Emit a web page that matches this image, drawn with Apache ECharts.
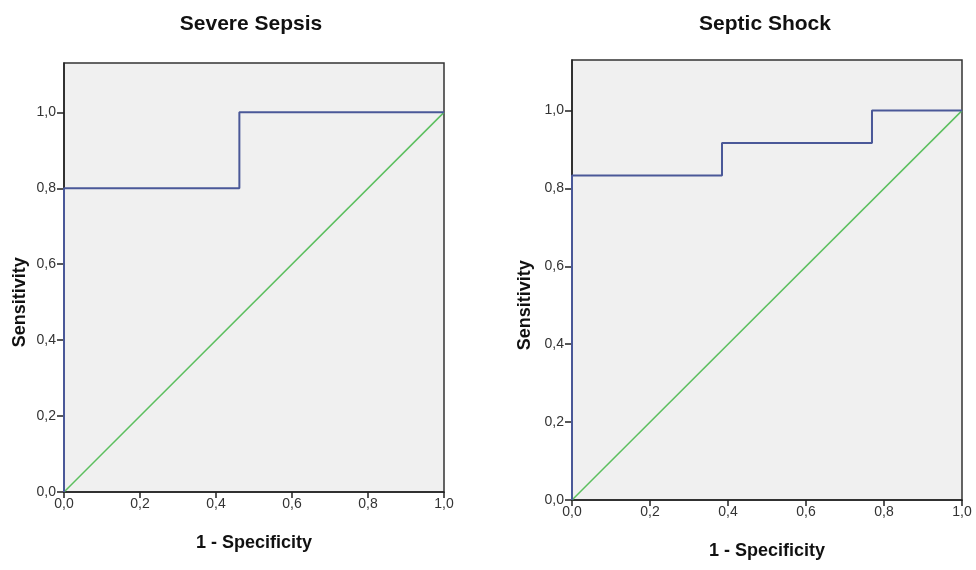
<!DOCTYPE html>
<html><head><meta charset="utf-8">
<script src="https://cdn.jsdelivr.net/npm/echarts@6/dist/echarts.min.js"></script>
<style>html,body{margin:0;padding:0;background:#fff}#c{width:976px;height:570px}</style>
</head><body><div id="c"></div>
<script>
const titles = ['Severe Sepsis', 'Septic Shock'];
const xLabel = '1 - Specificity';
const yLabel = 'Sensitivity';
// ROC curve points [1 - specificity, sensitivity]
const rocSevereSepsis = [[0, 0], [0, 0.8], [0.4615, 0.8], [0.4615, 1.0], [1.0, 1.0]];
const rocSepticShock = [[0, 0], [0, 0.8333], [0.3846, 0.8333], [0.3846, 0.9167], [0.7692, 0.9167], [0.7692, 1.0], [1.0, 1.0]];
const reference = [[0, 0], [1, 1]];
const tickValues = [0, 0.2, 0.4, 0.6, 0.8, 1.0];

const chart = echarts.init(document.getElementById('c'));
const fmt = v => (v > 1.001 ? '' : v.toFixed(1).replace('.', ','));
const FONT = 'Liberation Sans';
const grids = [
  {left: 64, top: 63, width: 380, height: 429},
  {left: 572, top: 60, width: 390, height: 440}
];
function xAxis(i) {
  return {gridIndex: i, type: 'value', min: 0, max: 1, interval: 0.2,
    name: xLabel, nameLocation: 'middle', nameGap: 42,
    nameTextStyle: {fontFamily: FONT, fontWeight: 'bold', fontSize: 18, color: '#111'},
    axisLine: {show: true, lineStyle: {color: '#222', width: 1.5}},
    axisTick: {show: true, length: 6, inside: false, lineStyle: {color: '#222', width: 1.5}},
    axisLabel: {formatter: fmt, fontFamily: FONT, fontSize: 14, color: '#333', margin: 5},
    splitLine: {show: false}};
}
function yAxis(i) {
  return {gridIndex: i, type: 'value', min: 0, max: 1.13, interval: 0.2,
    axisLine: {show: true, lineStyle: {color: '#222', width: 1.5}},
    axisTick: {show: true, length: 7, lineStyle: {color: '#222', width: 1.5},
      customValues: tickValues},
    axisLabel: {formatter: fmt, fontFamily: FONT, fontSize: 14, color: '#333', margin: 8,
      customValues: tickValues},
    splitLine: {show: false}};
}
chart.setOption({
  animation: false,
  title: [
    {text: titles[0], left: 246, top: 9, textAlign: 'center',
      textStyle: {fontFamily: FONT, fontWeight: 'bold', fontSize: 21, color: '#111'}},
    {text: titles[1], left: 760, top: 9, textAlign: 'center',
      textStyle: {fontFamily: FONT, fontWeight: 'bold', fontSize: 21, color: '#111'}}
  ],
  grid: grids.map(g => Object.assign({show: true, backgroundColor: '#f0f0f0', borderColor: '#333', borderWidth: 1.5}, g)),
  xAxis: [xAxis(0), xAxis(1)],
  yAxis: [yAxis(0), yAxis(1)],
  series: [
    {type: 'line', xAxisIndex: 0, yAxisIndex: 0, data: reference, symbol: 'none',
      lineStyle: {color: '#5cbf5f', width: 1.5}},
    {type: 'line', xAxisIndex: 0, yAxisIndex: 0, data: rocSevereSepsis, symbol: 'none',
      lineStyle: {color: '#4a5898', width: 2}},
    {type: 'line', xAxisIndex: 1, yAxisIndex: 1, data: reference, symbol: 'none',
      lineStyle: {color: '#5cbf5f', width: 1.5}},
    {type: 'line', xAxisIndex: 1, yAxisIndex: 1, data: rocSepticShock, symbol: 'none',
      lineStyle: {color: '#4a5898', width: 2}}
  ]
});
// y-axis titles centred on the 0..1 range of each axis
const nameX = [20, 525];
const graphics = [0, 1].map(i => {
  const yMid = chart.convertToPixel({yAxisIndex: i}, 0.5);
  return {type: 'text', x: nameX[i], y: yMid, rotation: Math.PI / 2,
    style: {text: yLabel, fontFamily: FONT, fontWeight: 'bold', fontSize: 18, fill: '#111',
      align: 'center', verticalAlign: 'middle'}};
});
chart.setOption({graphic: graphics});
</script></body></html>
